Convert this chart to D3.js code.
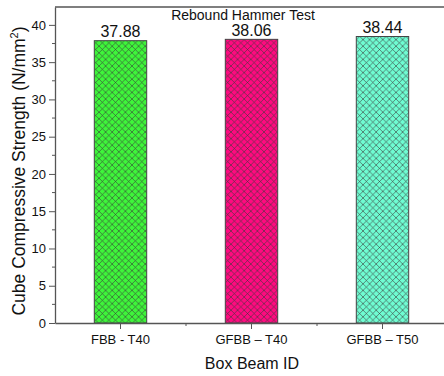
<!DOCTYPE html>
<html>
<head>
<meta charset="utf-8">
<script src="https://d3js.org/d3.v7.min.js"></script>
<style>
  body { margin: 0; background: #fff; }
  text { font-family: Arial, "Liberation Sans", sans-serif; fill: #111; }
</style>
</head>
<body>
<div id="chart"></div>
<script>
// data
var categories = ["FBB - T40", "GFBB \u2013 T40", "GFBB \u2013 T50"];
var values = [37.88, 38.06, 38.44];
var colors = ["#3ef53a", "#ff0a80", "#6ffcd2"];
var yTicks = [0, 5, 10, 15, 20, 25, 30, 35, 40];

var width = 444, height = 376,
    margin = {top: 7, right: -4, bottom: 53, left: 55};

var svg = d3.select("#chart").append("svg")
  .attr("width", width)
  .attr("height", height);

var x = d3.scaleBand()
  .domain(categories)
  .range([margin.left, width - margin.right])
  .paddingInner(0.6)
  .paddingOuter(0.3);

var y = d3.scaleLinear()
  .domain([0, 42.4])
  .range([height - margin.bottom, margin.top]);

// crosshatch patterns, one per colour
var defs = svg.append("defs");
colors.forEach(function(c, i) {
  var p = defs.append("pattern")
    .attr("id", "hatch" + i)
    .attr("patternUnits", "userSpaceOnUse")
    .attr("width", 6.6)
    .attr("height", 6.6);
  p.append("rect").attr("width", 6.6).attr("height", 6.6).attr("fill", c);
  p.append("path")
    .attr("d", "M0,0L6.6,6.6M6.6,0L0,6.6")
    .attr("stroke", "#3a3a3a")
    .attr("stroke-width", 0.6)
    .attr("fill", "none");
});

// frame top line
svg.append("line")
  .attr("x1", margin.left).attr("x2", width)
  .attr("y1", margin.top).attr("y2", margin.top)
  .attr("stroke", "#555").attr("stroke-width", 1.5);

// bars
svg.selectAll("rect.bar")
  .data(values)
  .enter().append("rect")
  .attr("class", "bar")
  .attr("x", function(d, i) { return x(categories[i]); })
  .attr("y", function(d) { return y(d); })
  .attr("width", x.bandwidth())
  .attr("height", function(d) { return y(0) - y(d); })
  .attr("fill", function(d, i) { return "url(#hatch" + i + ")"; })
  .attr("stroke", "#444")
  .attr("stroke-width", 1);

// value labels
svg.selectAll("text.val")
  .data(values)
  .enter().append("text")
  .attr("class", "val")
  .attr("x", function(d, i) { return x(categories[i]) + x.bandwidth() / 2; })
  .attr("y", function(d) { return y(d) - 3.5; })
  .attr("text-anchor", "middle")
  .style("font-size", "16px")
  .text(function(d) { return d.toFixed(2); });

// y axis
var yAxis = svg.append("g")
  .attr("transform", "translate(" + margin.left + ",0)");
yAxis.call(d3.axisLeft(y).tickValues(yTicks).tickSize(6).tickPadding(3).tickSizeOuter(0));
var minor = d3.range(2.5, 42, 5);
yAxis.selectAll("line.minor")
  .data(minor)
  .enter().append("line")
  .attr("class", "minor")
  .attr("x1", 0).attr("x2", -3)
  .attr("y1", function(d) { return y(d); })
  .attr("y2", function(d) { return y(d); })
  .attr("stroke", "#555");
yAxis.select(".domain").attr("stroke", "#555").attr("stroke-width", 1.3);
yAxis.selectAll(".tick line").attr("stroke", "#555");
yAxis.selectAll(".tick text").style("font-size", "13px").attr("fill", "#111");

// x axis
var xAxis = svg.append("g")
  .attr("transform", "translate(0," + y(0) + ")");
xAxis.call(d3.axisBottom(x).tickSize(6).tickPadding(6).tickSizeOuter(0));
xAxis.selectAll("line.minor")
  .data(categories.slice(1))
  .enter().append("line")
  .attr("class", "minor")
  .attr("x1", function(d) { return x(d) - (x.step() - x.bandwidth()) / 2; })
  .attr("x2", function(d) { return x(d) - (x.step() - x.bandwidth()) / 2; })
  .attr("y1", 0).attr("y2", 3)
  .attr("stroke", "#555");
xAxis.select(".domain").attr("stroke", "#555").attr("stroke-width", 1.3);
xAxis.selectAll(".tick line").attr("stroke", "#555");
xAxis.selectAll(".tick text").style("font-size", "13px").attr("fill", "#111");

// title
svg.append("text")
  .attr("x", 243)
  .attr("y", 20)
  .attr("text-anchor", "middle")
  .style("font-size", "14px")
  .text("Rebound Hammer Test");

// axis titles
svg.append("text")
  .attr("x", 252)
  .attr("y", 369)
  .attr("text-anchor", "middle")
  .style("font-size", "16px")
  .text("Box Beam ID");

var yl = svg.append("text")
  .attr("transform", "translate(25," + 171 + ") rotate(-90)")
  .attr("text-anchor", "middle")
  .style("font-size", "17.5px");
yl.append("tspan").text("Cube Compressive Strength (N/mm");
yl.append("tspan").attr("dy", -7).style("font-size", "11px").text("2");
yl.append("tspan").attr("dy", 7).text(")");
</script>
</body>
</html>
